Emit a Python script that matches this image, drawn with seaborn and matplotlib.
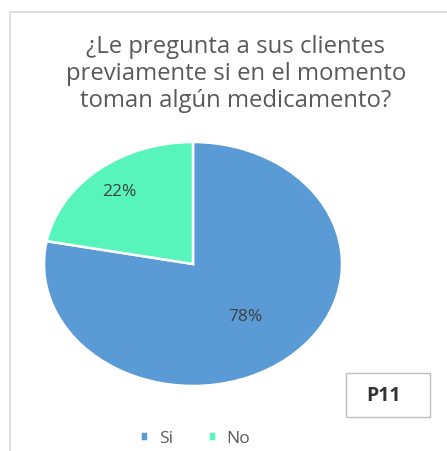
import matplotlib
matplotlib.use("Agg")
import matplotlib.pyplot as plt
import seaborn as sns
import numpy as np
from matplotlib.patches import Rectangle

categories = ["Si", "No"]
values = [78, 22]
colors = ["#5B9BD5", "#57F5BB"]
title_lines = ["¿Le pregunta a sus clientes", "previamente si en el momento", "toman algún medicamento?"]
box_label = "P11"

sns.set_theme(style="white")
plt.rcParams['font.family'] = ['Open Sans', 'DejaVu Sans']

W, H = 447, 452
fig = plt.figure(figsize=(W/100, H/100), dpi=100)
fig.patch.set_facecolor("white")

# chart border (top + left visible)
fig.patches.append(Rectangle((10/W, -0.1), 1.2, (H-13)/H + 0.1, transform=fig.transFigure,
                             fill=False, edgecolor="#D9D9D9", linewidth=1.2))

ax = fig.add_axes([44/W, 65/H, 298/W, 244/H])
wedges, texts, autotexts = ax.pie(values, colors=colors, startangle=90, counterclock=False,
                                  autopct="%1.0f%%", pctdistance=0.78,
                                  wedgeprops=dict(edgecolor="white", linewidth=1.8),
                                  textprops=dict(color="#404040", fontsize=12.5))
ax.set_aspect("auto")
ax.set_xlim(-1, 1)
ax.set_ylim(-1, 1)
# move the large-slice label inward
w0 = wedges[0]
mid = np.deg2rad((w0.theta1 + w0.theta2) / 2)
autotexts[0].set_position((0.55 * np.cos(mid), 0.55 * np.sin(mid)))

fig.text(236/W, 1 - 74/H, "\n".join(title_lines), ha="center", va="center",
         fontsize=17.2, color="#595959", linespacing=1.17)

fig.patches.append(Rectangle((346/W, 1 - 418/H), 84/W, 44/H, transform=fig.transFigure,
                             fill=False, edgecolor="#BFBFBF", linewidth=1.0))
fig.text(383/W, 1 - 396/H, box_label, ha="center", va="center", fontsize=14,
         color="#333333", fontweight="bold")

fig.legend(wedges, categories, loc="center", bbox_to_anchor=(195/W, 1 - 439/H), ncol=2,
           frameon=False, fontsize=12.5, labelcolor="#595959", handlelength=0.5,
           handleheight=0.5, columnspacing=2.0, handletextpad=0.6)

fig.savefig("out.png", dpi=100, facecolor="white")
